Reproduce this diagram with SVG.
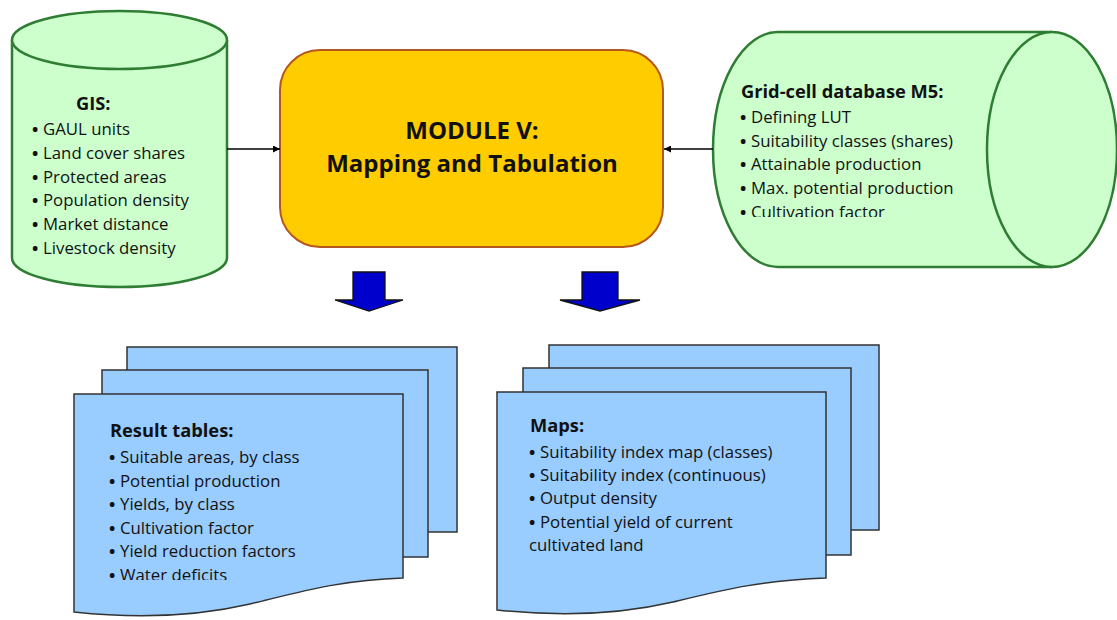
<svg xmlns="http://www.w3.org/2000/svg" width="1117" height="620" viewBox="0 0 1117 620">
<style>
.db{fill:#CCFFCC;stroke:#2E7D32;stroke-width:2.5}
.doc{fill:#99CCFF;stroke:#333;stroke-width:1.5}
.t{font-family:"Open Sans","Liberation Sans",sans-serif;font-size:16.8px;fill:#111}
.b{font-weight:bold}
.h{font-family:"Open Sans","Liberation Sans",sans-serif;font-size:18.3px;font-weight:bold;fill:#111}
.m{font-family:"Open Sans","Liberation Sans",sans-serif;font-size:24px;font-weight:bold;fill:#111;text-anchor:middle}
.c{stroke:#000;stroke-width:1.3;fill:none}
.ba{fill:#0000CC;stroke:#111;stroke-width:1.3}
</style>
<defs>
<marker id="ah" viewBox="0 0 10 10" refX="10" refY="5" markerWidth="7" markerHeight="7" markerUnits="userSpaceOnUse" orient="auto"><path d="M0,0 L10,5 L0,10 Z" fill="#000"/></marker>
<clipPath id="clipL"><rect x="74" y="394" width="330" height="186"/></clipPath>
<clipPath id="clipG"><rect x="713" y="32" width="280" height="185"/></clipPath>
</defs>

<g id="gis">
<path class="db" d="M12,40 V258 A107.5,29 0 0 0 227,258 V40"/>
<ellipse class="db" cx="119.5" cy="40" rx="107.5" ry="29"/>
<text class="h" x="76" y="110">GIS:</text>
<text class="t" y="135"><tspan class="b" x="32">•</tspan><tspan x="43">GAUL units</tspan></text>
<text class="t" y="159"><tspan class="b" x="32">•</tspan><tspan x="43">Land cover shares</tspan></text>
<text class="t" y="183"><tspan class="b" x="32">•</tspan><tspan x="43">Protected areas</tspan></text>
<text class="t" y="206"><tspan class="b" x="32">•</tspan><tspan x="43">Population density</tspan></text>
<text class="t" y="230"><tspan class="b" x="32">•</tspan><tspan x="43">Market distance</tspan></text>
<text class="t" y="254"><tspan class="b" x="32">•</tspan><tspan x="43">Livestock density</tspan></text>
</g>

<g id="module">
<rect x="280" y="50" width="383" height="197" rx="40" ry="40" fill="#FFCC00" stroke="#B5581F" stroke-width="2"/>
<text class="m" x="472" y="139">MODULE V:</text>
<text class="m" x="472" y="172">Mapping and Tabulation</text>
</g>

<g id="griddb">
<path class="db" d="M1052,32 H778 A65,117.5 0 0 0 778,267 H1052"/>
<ellipse class="db" cx="1052" cy="149.5" rx="65" ry="117.5"/>
<g clip-path="url(#clipG)">
<text class="h" x="741" y="98">Grid-cell database M5:</text>
<text class="t" y="123"><tspan class="b" x="740">•</tspan><tspan x="751">Defining LUT</tspan></text>
<text class="t" y="147"><tspan class="b" x="740">•</tspan><tspan x="751">Suitability classes (shares)</tspan></text>
<text class="t" y="170"><tspan class="b" x="740">•</tspan><tspan x="751">Attainable production</tspan></text>
<text class="t" y="194"><tspan class="b" x="740">•</tspan><tspan x="751">Max. potential production</tspan></text>
<text class="t" y="218"><tspan class="b" x="740">•</tspan><tspan x="751">Cultivation factor</tspan></text>
</g>
</g>

<g id="tables">
<rect class="doc" x="127" y="347" width="330" height="185"/>
<rect class="doc" x="102" y="370" width="326" height="187"/>
<path class="doc" d="M74,394 H403 V578 C340,580 300,592 250,604 C190,618 130,618 74,612 Z"/>
<g clip-path="url(#clipL)">
<text class="h" x="110" y="437">Result tables:</text>
<text class="t" y="463"><tspan class="b" x="109">•</tspan><tspan x="120">Suitable areas, by class</tspan></text>
<text class="t" y="487"><tspan class="b" x="109">•</tspan><tspan x="120">Potential production</tspan></text>
<text class="t" y="510"><tspan class="b" x="109">•</tspan><tspan x="120">Yields, by class</tspan></text>
<text class="t" y="534"><tspan class="b" x="109">•</tspan><tspan x="120">Cultivation factor</tspan></text>
<text class="t" y="557"><tspan class="b" x="109">•</tspan><tspan x="120">Yield reduction factors</tspan></text>
<text class="t" y="581"><tspan class="b" x="109">•</tspan><tspan x="120">Water deficits</tspan></text>
</g>
</g>

<g id="maps">
<rect class="doc" x="549" y="345" width="330" height="185"/>
<rect class="doc" x="523" y="368" width="328" height="187"/>
<path class="doc" d="M497,392 H826 V578 C763,580 723,590 673,602 C613,616 553,616 497,610 Z"/>
<text class="h" x="530" y="432">Maps:</text>
<text class="t" y="458"><tspan class="b" x="529">•</tspan><tspan x="540">Suitability index map (classes)</tspan></text>
<text class="t" y="481"><tspan class="b" x="529">•</tspan><tspan x="540">Suitability index (continuous)</tspan></text>
<text class="t" y="504"><tspan class="b" x="529">•</tspan><tspan x="540">Output density</tspan></text>
<text class="t" y="528"><tspan class="b" x="529">•</tspan><tspan x="540">Potential yield of current</tspan></text>
<text class="t" x="529" y="551">cultivated land</text>
</g>

<g id="connectors">
<line class="c" x1="227" y1="149" x2="280" y2="149" marker-end="url(#ah)"/>
<line class="c" x1="713" y1="149" x2="664" y2="149" marker-end="url(#ah)"/>
<path class="ba" d="M353,272 H385 V300 H403 L369,311 L335,300 H353 Z"/>
<path class="ba" d="M582,272 H618 V300 H640 L600,311 L560,300 H582 Z"/>
</g>
</svg>
